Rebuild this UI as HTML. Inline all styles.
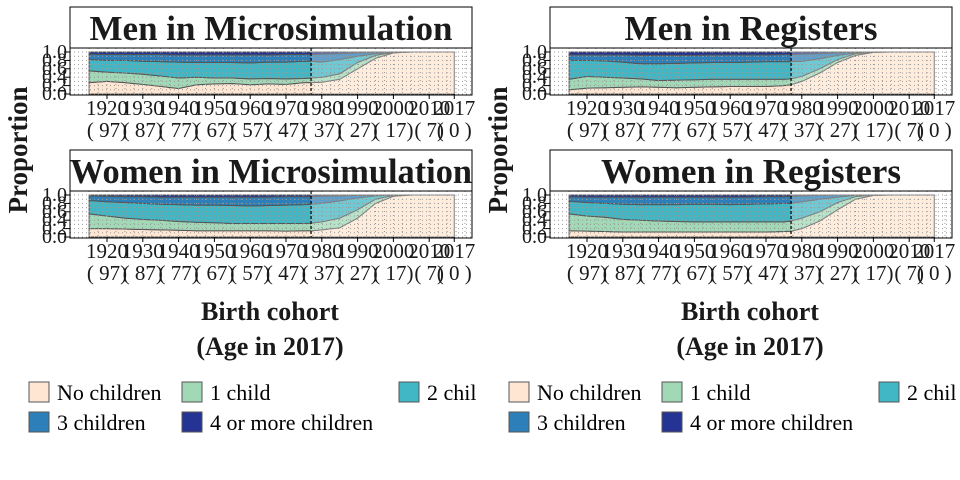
<!DOCTYPE html>
<html><head><meta charset="utf-8"><style>
html,body{margin:0;padding:0;background:#fff;}
svg{display:block;font-family:"Liberation Serif",serif;}
</style></head><body>
<svg id="c" width="960" height="480" xmlns="http://www.w3.org/2000/svg"></svg>
<script>
const years=[1915,1920,1925,1930,1935,1940,1945,1950,1955,1960,1965,1970,1975,1977,1980,1985,1990,1995,2000,2005,2010,2017];
const categories=["No children","1 child","2 children","3 children","4 or more children"];
const colors=["#FEE6D2","#A1D8B6","#41B6C4","#2C7FB8","#253494"];
// cumulative boundaries (no children, +1 child, +2, +3)
const menMicro0=[0.27,0.30,0.27,0.23,0.18,0.13,0.22,0.24,0.25,0.22,0.24,0.23,0.27,0.27,0.28,0.35,0.60,0.85,0.98,1,1,1];
const menMicro1=[0.55,0.52,0.50,0.47,0.43,0.38,0.40,0.38,0.38,0.36,0.37,0.36,0.37,0.38,0.40,0.48,0.75,0.92,0.99,1,1,1];
const menMicro2=[0.82,0.80,0.80,0.78,0.77,0.76,0.75,0.75,0.75,0.74,0.76,0.76,0.78,0.78,0.76,0.82,0.90,0.96,1,1,1,1];
const menMicro3=[0.95,0.94,0.94,0.94,0.94,0.93,0.93,0.93,0.93,0.93,0.93,0.94,0.94,0.94,0.95,0.96,0.98,0.99,1,1,1,1];
const womenMicro0=[0.20,0.20,0.19,0.18,0.17,0.16,0.15,0.15,0.15,0.15,0.15,0.14,0.15,0.15,0.17,0.22,0.45,0.80,0.97,1,1,1];
const womenMicro1=[0.55,0.50,0.45,0.42,0.40,0.37,0.35,0.34,0.32,0.32,0.32,0.32,0.32,0.33,0.36,0.45,0.65,0.90,0.99,1,1,1];
const womenMicro2=[0.87,0.84,0.82,0.80,0.78,0.77,0.76,0.76,0.75,0.74,0.75,0.76,0.77,0.78,0.80,0.86,0.93,0.98,1,1,1,1];
const womenMicro3=[0.98,0.97,0.96,0.96,0.95,0.95,0.95,0.95,0.95,0.95,0.95,0.96,0.96,0.96,0.97,0.98,0.99,1,1,1,1,1];
const menReg0=[0.10,0.14,0.15,0.16,0.17,0.16,0.15,0.16,0.17,0.18,0.18,0.18,0.20,0.22,0.30,0.50,0.75,0.92,0.99,1,1,1];
const menReg1=[0.35,0.42,0.40,0.38,0.36,0.32,0.33,0.34,0.35,0.35,0.35,0.35,0.35,0.36,0.42,0.60,0.82,0.96,1,1,1,1];
const menReg2=[0.80,0.80,0.79,0.76,0.72,0.72,0.73,0.74,0.75,0.75,0.76,0.77,0.77,0.77,0.78,0.84,0.92,0.98,1,1,1,1];
const menReg3=[0.93,0.93,0.93,0.93,0.92,0.92,0.92,0.92,0.93,0.93,0.93,0.93,0.94,0.94,0.95,0.96,0.98,1,1,1,1,1];
const womenReg0=[0.15,0.14,0.13,0.12,0.12,0.12,0.12,0.12,0.12,0.12,0.12,0.12,0.13,0.14,0.20,0.38,0.65,0.90,0.99,1,1,1];
const womenReg1=[0.55,0.50,0.47,0.42,0.40,0.38,0.37,0.36,0.36,0.36,0.36,0.36,0.36,0.38,0.45,0.60,0.82,0.96,1,1,1,1];
const womenReg2=[0.85,0.82,0.80,0.78,0.77,0.77,0.77,0.78,0.78,0.77,0.78,0.79,0.80,0.80,0.84,0.90,0.95,0.99,1,1,1,1];
const womenReg3=[0.96,0.95,0.95,0.95,0.95,0.95,0.95,0.95,0.95,0.95,0.95,0.96,0.96,0.97,0.98,0.99,1,1,1,1,1,1];
const xTicks=[1920,1930,1940,1950,1960,1970,1980,1990,2000,2010,2017];
const ageLabels=["( 97)","( 87)","( 77)","( 67)","( 57)","( 47)","( 37)","( 27)","( 17)","( 7)","( 0 )"];
const yTicks=[0,0.2,0.4,0.6,0.8,1.0];
const yTickLabels=["0.0","0.2","0.4","0.6","0.8","1.0"];
const panels=[
 {title:"Men in Microsimulation",tl:363,ox:0,top:7,d:[menMicro0,menMicro1,menMicro2,menMicro3]},
 {title:"Women in Microsimulation",tl:402,ox:0,top:150,d:[womenMicro0,womenMicro1,womenMicro2,womenMicro3]},
 {title:"Men in Registers",tl:253,ox:480,top:7,d:[menReg0,menReg1,menReg2,menReg3]},
 {title:"Women in Registers",tl:300,ox:480,top:150,d:[womenReg0,womenReg1,womenReg2,womenReg3]}
];
const NS="http://www.w3.org/2000/svg";
const svg=document.getElementById('c');
function mk(t,a,p){const e=document.createElementNS(NS,t);for(const k in a)e.setAttribute(k,a[k]);(p||svg).appendChild(e);return e;}
panels.forEach((P,pi)=>{
 const g=mk('g',{});
 
 
 const L=P.ox+70,R=P.ox+472,sTop=P.top,sBot=P.top+41;
 const yTop=sBot+4,yBot=sBot+46;
 const x=v=>P.ox+107+(v-1920)*3.58;
 const y=v=>yBot-(yBot-yTop)*v;
 const strip=mk('rect',{x:L,y:sTop,width:R-L,height:sBot-sTop,fill:'#fff',stroke:'#000'},g);
 
 
 const tt=mk('text',{x:(L+R)/2,y:sTop+33,'text-anchor':'middle','font-size':35,'font-weight':'bold',fill:'#1a1a1a',textLength:P.tl,lengthAdjust:'spacingAndGlyphs'},g);
 tt.textContent=P.title;
 
 
 const clip=mk('clipPath',{id:'cl'+pi},g);mk('rect',{x:L,y:sBot,width:R-L,height:yBot+1-sBot},clip);
 const pg=mk('g',{'clip-path':'url(#cl'+pi+')'},g);
 const layers=[years.map(()=>0),...P.d,years.map(()=>1)];
 for(let k=0;k<5;k++){
  const lo=layers[k],hi=layers[k+1];
  let pts=years.map((yr,i)=>x(yr)+','+y(hi[i]));
  pts=pts.concat(years.map((yr,i)=>[x(yr),y(lo[i])]).reverse().map(p=>p.join(',')));
  const a=mk('polygon',{points:pts.join(' '),fill:colors[k],stroke:'#555','stroke-width':1},pg);
  
  
 }
 mk('rect',{x:x(1977),y:sBot,width:R-x(1977),height:yBot-sBot,fill:'#fff','fill-opacity':0.25},pg);
 for(let v=1915;v<=2020;v+=2.5)mk('line',{x1:x(v),x2:x(v),y1:sBot,y2:yBot,stroke:'#999','stroke-width':1,'stroke-dasharray':'1,3'},pg);
 for(let v=0;v<=1.01;v+=0.1)mk('line',{x1:L,x2:R,y1:y(v),y2:y(v),stroke:'#999','stroke-width':1,'stroke-dasharray':'1,3'},pg);
 mk('line',{x1:x(1977),x2:x(1977),y1:sBot,y2:yBot,stroke:'#000','stroke-width':1.2,'stroke-dasharray':'3,2'},pg);
 mk('rect',{x:L,y:sBot,width:R-L,height:yBot+1-sBot,fill:'none',stroke:'#000'},g);
 yTicks.forEach((v,i)=>{
  mk('line',{x1:L-6,x2:L,y1:y(v),y2:y(v),stroke:'#000'},g);
  const t=mk('text',{x:L-3,y:y(v)+6,'text-anchor':'end','font-size':20,fill:'#1a1a1a'},g);
  t.textContent=yTickLabels[i];
  
  
 });
 xTicks.forEach((v,i)=>{
  mk('line',{x1:x(v),x2:x(v),y1:yBot,y2:yBot+5,stroke:'#000'},g);
  const t=mk('text',{x:x(v),y:yBot+21,'text-anchor':'middle','font-size':21,fill:'#1a1a1a'},g);
  t.textContent=v;
  
  
  const t2=mk('text',{x:x(v),y:yBot+43,'text-anchor':'middle','font-size':21,fill:'#1a1a1a'},g);
  t2.textContent=ageLabels[i];
  
  
 });
});
[0,480].forEach(ox=>{
 const yl=mk('text',{x:0,y:0,transform:'translate('+(ox+27)+',150) rotate(-90)','text-anchor':'middle','font-size':27,'font-weight':'bold',fill:'#1a1a1a'});
 yl.textContent='Proportion';
 
 
 const x1=mk('text',{x:ox+270,y:320,'text-anchor':'middle','font-size':26,'font-weight':'bold',fill:'#1a1a1a'});
 x1.textContent='Birth cohort';
 
 
 const x2=mk('text',{x:ox+270,y:355,'text-anchor':'middle','font-size':26,'font-weight':'bold',fill:'#1a1a1a'});
 x2.textContent='(Age in 2017)';
 
 
 const lg=mk('g',{});
 
 
 const pos=[[29,382],[182,382],[399,382],[29,412],[182,412]];
 categories.forEach((c,k)=>{
  const [lx,ly]=pos[k];
  const e=mk('g',{},lg);
  
  
  mk('rect',{x:ox+lx,y:ly,width:20,height:20,fill:colors[k],stroke:'#555'},e);
  const t=mk('text',{x:ox+lx+28,y:ly+18,'font-size':22,fill:'#000'},e);
  t.textContent=(k==2)?'2 chil':c;
 });
});
</script>
</body></html>
